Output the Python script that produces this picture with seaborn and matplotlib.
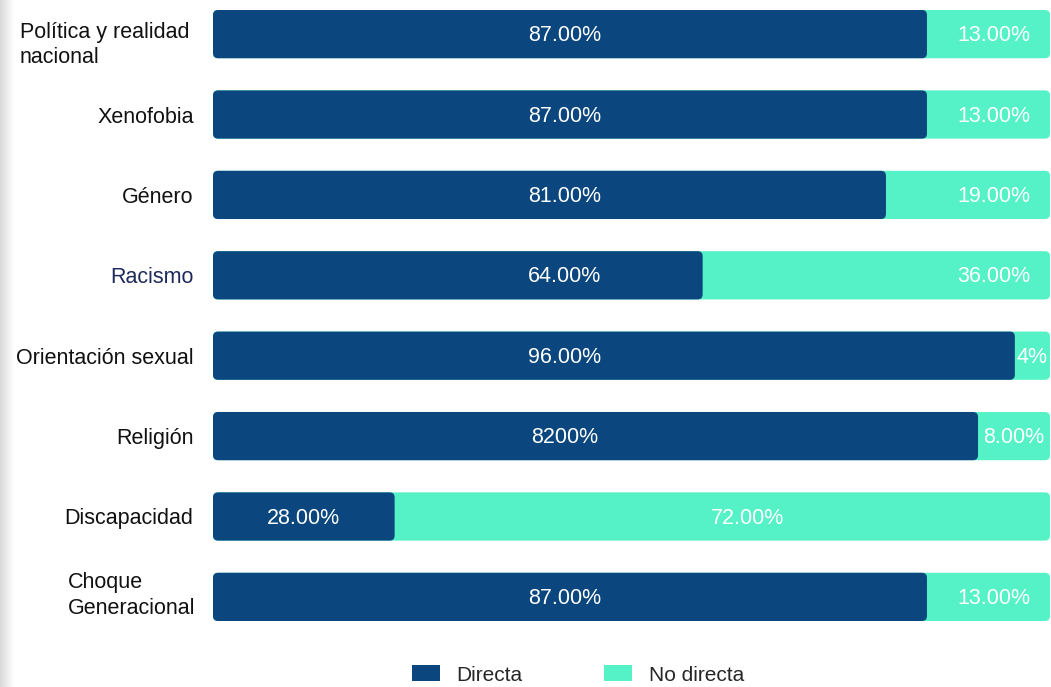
import matplotlib
matplotlib.use("Agg")
import matplotlib.pyplot as plt
import matplotlib.transforms as mtrans
import seaborn as sns
import pandas as pd
import numpy as np
from matplotlib.patches import FancyBboxPatch, Patch
from matplotlib.colors import LinearSegmentedColormap

# ---------------- data ----------------
categories = ["Política y realidad\nnacional", "Xenofobia", "Género", "Racismo",
              "Orientación sexual", "Religión", "Discapacidad", "Choque\nGeneracional"]
# bar lengths as drawn in the picture (share of the 100% bar)
directa = [85.3, 85.3, 80.4, 58.5, 95.8, 91.4, 21.7, 85.3]
no_directa = [14.7, 14.7, 19.6, 41.5, 4.2, 8.6, 78.3, 14.7]
# labels as printed on the bars
directa_labels = ["87.00%", "87.00%", "81.00%", "64.00%", "96.00%", "8200%", "28.00%", "87.00%"]
no_directa_labels = ["13.00%", "13.00%", "19.00%", "36.00%", "4%", "8.00%", "72.00%", "13.00%"]
series_names = ["Directa", "No directa"]

NAVY = "#0B477E"
TEAL = "#55F2C8"

sns.set_theme(style="white")
plt.rcParams["font.family"] = ["Liberation Sans", "DejaVu Sans"]

df = pd.DataFrame({"cat": categories,
                   "directa": directa,
                   "total": np.add(directa, no_directa)})

W, H = 1051, 687
fig = plt.figure(figsize=(W / 100, H / 100), dpi=100)
fig.patch.set_facecolor("white")

# subtle grey shade along the left edge
gax = fig.add_axes([0, 0, 14 / W, 1], zorder=-5)
cmap = LinearSegmentedColormap.from_list("g", ["#d9d9d9", "#ffffff"])
gax.imshow(np.linspace(0, 1, 50)[None, :], aspect="auto", cmap=cmap, extent=[0, 1, 0, 1])
gax.axis("off")

ax = fig.add_axes([213 / W, 1 - 621 / H, (1050 - 213) / W, (621 - 10) / H])
sns.barplot(data=df, y="cat", x="total", color=TEAL, orient="h", width=0.6,
            ax=ax, saturation=1, errorbar=None)
sns.barplot(data=df, y="cat", x="directa", color=NAVY, orient="h", width=0.6,
            ax=ax, saturation=1, errorbar=None)

# rounded corners
patches = list(ax.patches)
for k, p in enumerate(patches):
    x, y, w, h = p.get_x(), p.get_y(), p.get_width(), p.get_height()
    fc = p.get_facecolor()
    p.remove()
    ax.add_patch(FancyBboxPatch((x, y), w, h,
                                boxstyle="round,pad=0,rounding_size=0.6",
                                mutation_aspect=0.104, fc=fc, ec="none",
                                zorder=2 if k >= len(categories) else 1))

ax.set_xlim(0, 100)
ax.set_ylim(len(categories) - 0.7, -0.3)
for s in ax.spines.values():
    s.set_visible(False)
ax.set_xticks([])
ax.set_xlabel("")
ax.set_ylabel("")
ax.tick_params(axis="y", length=0, pad=14)
labels = ax.get_yticklabels()
for j, lab in enumerate(labels):
    lab.set_fontsize(15.5)
    lab.set_color("#111111")
    lab.set_multialignment("left")
    lab.set_linespacing(1.3)
    if lab.get_text() == "Racismo":
        lab.set_color("#1F2A5C")
# small vertical nudges of the two-line labels, as in the original
labels[0].set_transform(labels[0].get_transform() +
                        mtrans.ScaledTranslation(-4 / 100, -6 / 100, fig.dpi_scale_trans))
labels[-1].set_transform(labels[-1].get_transform() +
                         mtrans.ScaledTranslation(2 / 100, 6 / 100, fig.dpi_scale_trans))

# value labels
for i, (d, n) in enumerate(zip(directa, no_directa)):
    xd = 42 if d > 50 else d / 2
    ax.text(xd, i + 0.02, directa_labels[i], ha="center", va="center",
            color="white", fontsize=15.5, zorder=5)
    c = d + n / 2
    xn = c + 3 if n > 50 else max(c, 93.3)
    ax.text(xn, i + 0.02, no_directa_labels[i], ha="center", va="center",
            color="white", fontsize=15.5, zorder=5)

handles = [Patch(fc=NAVY, ec="none"), Patch(fc=TEAL, ec="none")]
fig.legend(handles, series_names, loc="center", bbox_to_anchor=(578 / W, 1 - 675 / H),
           ncol=2, frameon=False, fontsize=15, handlelength=1.35, handleheight=0.8,
           handletextpad=0.8, columnspacing=3.9)

fig.savefig("out.png", dpi=100)
